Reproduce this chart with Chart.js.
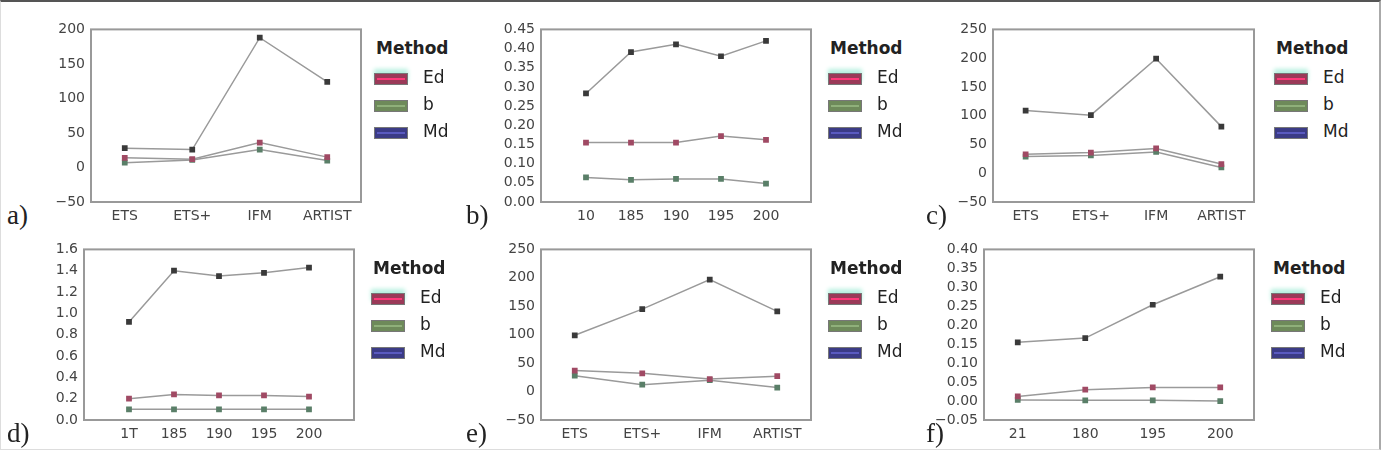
<!DOCTYPE html>
<html lang="en">
  <head>
    <meta charset="UTF-8" />
    <title>Method comparison panels</title>
    <script src="https://cdn.jsdelivr.net/npm/chart.js"></script>
    <style>
      body { margin: 0; background: #fff; }
      #page {
        position: relative; width: 1381px; height: 450px; box-sizing: border-box;
        border-top: 2px solid #555; border-right: 2px solid #aaa;
        border-left: 1px solid #ddd; border-bottom: 1px solid #ddd;
        overflow: hidden; font-family: "DejaVu Sans", sans-serif;
      }
      canvas { position: absolute; }
      .tag { position: absolute; font-family: "Liberation Serif", serif; font-size: 27px; color: #222; }
      .legend { position: absolute; color: #222; }
      .legend .title { position: absolute; left: 2px; font-weight: bold; font-size: 17px; white-space: nowrap; }
      .legend .row { position: absolute; left: 0; height: 12px; width: 90px; }
      .legend .box { position: absolute; left: 0; top: 0; width: 32px; height: 10px; border: 1px solid #777; }
      .legend .box i { position: absolute; left: 2px; right: 2px; top: 4px; height: 2px; }
      .legend .lab { position: absolute; left: 49px; top: -6px; font-size: 17px; }
    </style>
  </head>
  <body>
    <div id="page"></div>
    <script>
      // categories
      const catsA = ["ETS", "ETS+", "IFM", "ARTIST"];
      const catsB = ["10", "185", "190", "195", "200"];
      const catsC = ["ETS", "ETS+", "IFM", "ARTIST"];
      const catsD = ["1T", "185", "190", "195", "200"];
      const catsE = ["ETS", "ETS+", "IFM", "ARTIST"];
      const catsF = ["21", "180", "195", "200"];

      // series values
      const edA = [14, 12, 36, 15];
      const bA = [7, 11, 26, 10];
      const mdA = [28, 26, 188, 124];

      const edB = [0.155, 0.155, 0.155, 0.172, 0.162];
      const bB = [0.064, 0.058, 0.06, 0.06, 0.048];
      const mdB = [0.283, 0.391, 0.411, 0.38, 0.42];

      const edC = [33, 36, 43, 16];
      const bC = [29, 31, 37, 10];
      const mdC = [109, 101, 199, 81];

      const edD = [0.2, 0.24, 0.23, 0.23, 0.22];
      const bD = [0.1, 0.1, 0.1, 0.1, 0.1];
      const mdD = [0.92, 1.4, 1.35, 1.38, 1.43];

      const edE = [37, 32, 22, 27];
      const bE = [28, 12, 20, 7];
      const mdE = [99, 145, 197, 141];

      const edF = [0.012, 0.03, 0.036, 0.036];
      const bF = [0.003, 0.002, 0.002, 0.0];
      const mdF = [0.155, 0.166, 0.254, 0.328];

      // y tick labels
      const yTicksA = [-50, 0, 50, 100, 150, 200];
      const yTicksB = [0, 0.05, 0.1, 0.15, 0.2, 0.25, 0.3, 0.35, 0.4, 0.45];
      const yTicksC = [-50, 0, 50, 100, 150, 200, 250];
      const yTicksD = [0, 0.2, 0.4, 0.6, 0.8, 1.0, 1.2, 1.4, 1.6];
      const yTicksE = [-50, 0, 50, 100, 150, 200, 250];
      const yTicksF = [-0.05, 0, 0.05, 0.1, 0.15, 0.2, 0.25, 0.3, 0.35, 0.4];

      const methods = ["Ed", "b", "Md"];

      const page = document.getElementById("page");
      const padL = 55, padT = 12, padR = 12, padB = 30;

      // draws the grey frame round the plot area
      const frame = {
        id: "frame",
        afterDraw(chart) {
          const a = chart.chartArea, ctx = chart.ctx;
          ctx.save();
          ctx.strokeStyle = "#999";
          ctx.lineWidth = 2;
          ctx.strokeRect(a.left, a.top, a.right - a.left, a.bottom - a.top);
          ctx.restore();
        },
      };

      function series(vals, pointColor) {
        return {
          data: vals.map((v, i) => ({ x: i, y: v })),
          borderColor: "#9a9a9a",
          borderWidth: 1.5,
          pointStyle: "rect",
          pointRadius: 3,
          pointBackgroundColor: pointColor,
          pointBorderColor: pointColor,
          tension: 0,
        };
      }

      function panel(tag, box, cats, ed, b, md, yTicks, decimals, legendLeft) {
        const [L, T, R, B] = box;
        const canvas = document.createElement("canvas");
        canvas.width = R - L + padL + padR;
        canvas.height = B - T + padT + padB;
        canvas.style.left = L - padL + "px";
        canvas.style.top = T - padT + "px";
        page.appendChild(canvas);

        const xPad = cats.length > 4 ? 1 : 0.5;
        const tickFont = { family: "DejaVu Sans", size: 14 };

        new Chart(canvas.getContext("2d"), {
          type: "line",
          data: {
            datasets: [
              series(ed, "#a04a64"),
              series(b, "#5a7f68"),
              series(md, "#3a3a3a"),
            ],
          },
          options: {
            responsive: false,
            animation: false,
            layout: { padding: { top: padT, right: padR, left: 0, bottom: 0 } },
            plugins: { legend: { display: false }, tooltip: { enabled: false } },
            scales: {
              x: {
                type: "linear",
                min: -xPad,
                max: cats.length - 1 + xPad,
                grid: { display: false, drawTicks: false },
                border: { display: false },
                afterBuildTicks: (s) => { s.ticks = cats.map((c, i) => ({ value: i })); },
                afterFit: (s) => { s.height = padB; },
                ticks: {
                  autoSkip: false, maxRotation: 0, padding: 6,
                  color: "#444", font: tickFont,
                  callback: (v) => cats[v],
                },
              },
              y: {
                min: yTicks[0],
                max: yTicks[yTicks.length - 1],
                grid: { display: false, drawTicks: false },
                border: { display: false },
                afterBuildTicks: (s) => { s.ticks = yTicks.map((v) => ({ value: v })); },
                afterFit: (s) => { s.width = padL; },
                ticks: {
                  autoSkip: false, padding: 6,
                  color: "#444", font: tickFont,
                  callback: (v) => v.toFixed(decimals).replace("-", "\u2212"),
                },
              },
            },
          },
          plugins: [frame],
        });

        const t = document.createElement("div");
        t.className = "tag";
        t.textContent = tag;
        t.style.left = (L < 460 ? 6 : L < 920 ? 465 : 925) + "px";
        t.style.top = B - 2 + "px";
        page.appendChild(t);

        const lg = document.createElement("div");
        lg.className = "legend";
        lg.style.left = legendLeft + "px";
        lg.style.top = T + "px";
        let html = '<div class="title" style="top:11px">Method</div>';
        const fills = ["#9a3a58", "#6e8a5a", "#3b3b86"];
        const lines = ["#ff3a7a", "#8fb07a", "#5a5ac0"];
        methods.forEach((m, i) => {
          const glow = i === 0 ? "box-shadow:0 -4px 4px #b8f0e0;" : "";
          html +=
            '<div class="row" style="top:' + (46 + i * 27) + 'px">' +
            '<div class="box" style="background:' + fills[i] + ";" + glow + '"><i style="background:' + lines[i] + '"></i></div>' +
            '<div class="lab">' + m + "</div></div>";
        });
        lg.innerHTML = html;
        page.appendChild(lg);
      }

      panel("a)", [90, 25, 360, 200], catsA, edA, bA, mdA, yTicksA, 0, 373);
      panel("b)", [540, 25, 810, 200], catsB, edB, bB, mdB, yTicksB, 2, 827);
      panel("c)", [992, 25, 1253, 200], catsC, edC, bC, mdC, yTicksC, 0, 1273);
      panel("d)", [83, 245, 353, 418], catsD, edD, bD, mdD, yTicksD, 1, 370);
      panel("e)", [540, 245, 810, 418], catsE, edE, bE, mdE, yTicksE, 0, 827);
      panel("f)", [983, 245, 1253, 418], catsF, edF, bF, mdF, yTicksF, 2, 1270);
    </script>
  </body>
</html>
